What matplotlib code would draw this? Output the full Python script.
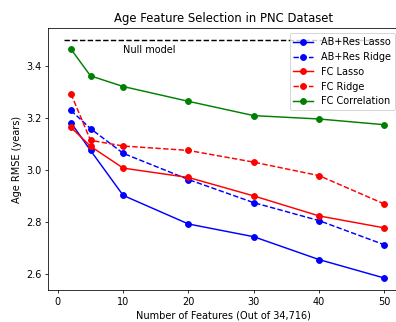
import matplotlib
matplotlib.use("Agg")
import matplotlib.pyplot as plt

n_features = [2, 5, 10, 20, 30, 40, 50]
ab_res_lasso = [3.183, 3.076, 2.903, 2.793, 2.744, 2.656, 2.585]
ab_res_ridge = [3.230, 3.160, 3.065, 2.964, 2.875, 2.806, 2.713]
fc_lasso = [3.165, 3.092, 3.008, 2.972, 2.901, 2.824, 2.778]
fc_ridge = [3.294, 3.115, 3.093, 3.076, 3.031, 2.979, 2.870]
fc_corr = [3.466, 3.363, 3.322, 3.265, 3.210, 3.197, 3.175]
null_x = [1, 50]
null_y = [3.5, 3.5]

DPI = 70
W, H = 396, 322
fig = plt.figure(figsize=(W / DPI, H / DPI), dpi=DPI)
L, R, T, B = 48.4, 399.4, 28.3, 290
ax = fig.add_axes([L / W, 1 - B / H, (R - L) / W, (B - T) / H])

ax.plot(null_x, null_y, 'k--')
ax.text(10, 3.463, 'Null model', va='center', ha='left')
ax.plot(n_features, ab_res_lasso, '-o', color='blue', label='AB+Res Lasso')
ax.plot(n_features, ab_res_ridge, '--o', color='blue', label='AB+Res Ridge')
ax.plot(n_features, fc_lasso, '-o', color='red', label='FC Lasso')
ax.plot(n_features, fc_ridge, '--o', color='red', label='FC Ridge')
ax.plot(n_features, fc_corr, '-o', color='green', label='FC Correlation')

ax.set_xlim(-1.45, 52.3)
ax.set_ylim(2.539, 3.546)
ax.set_xticks([0, 10, 20, 30, 40, 50])
ax.set_yticks([2.6, 2.8, 3.0, 3.2, 3.4])
ax.set_xlabel('Number of Features (Out of 34,716)')
ax.set_ylabel('Age RMSE (years)')
ax.set_title('Age Feature Selection in PNC Dataset')
ax.legend(loc='upper right')
fig.savefig('out.png', dpi=DPI)
